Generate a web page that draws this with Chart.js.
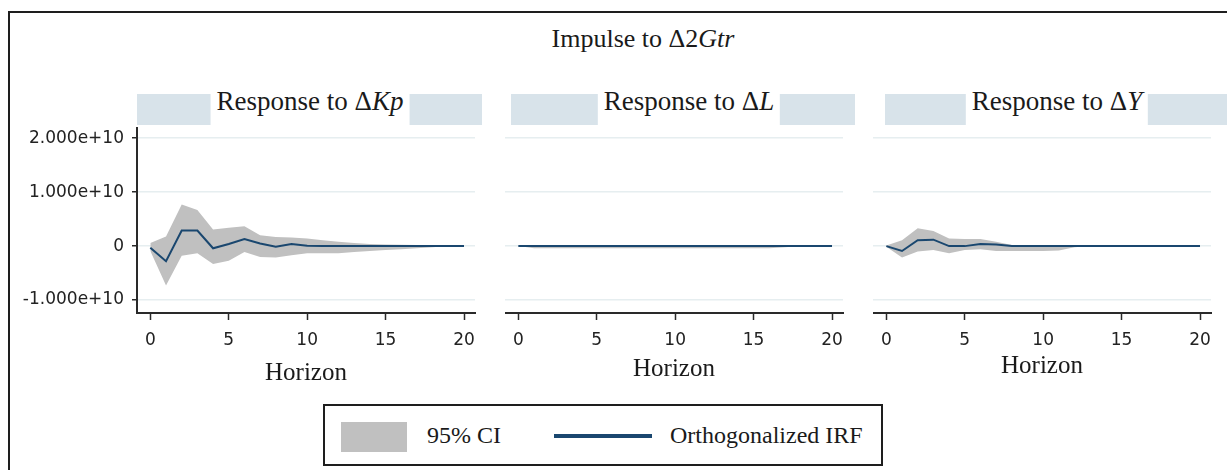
<!DOCTYPE html>
<html>
<head>
<meta charset="utf-8">
<script src="https://cdn.jsdelivr.net/npm/chart.js@4.4.1/dist/chart.umd.min.js"></script>
<style>
  html, body { margin: 0; padding: 0; background: #fff; }
  #stage { position: relative; width: 1227px; height: 470px; overflow: hidden; background: #fff; }
  .frame { position: absolute; left: 8px; top: 11px; width: 1240px; height: 480px; border: 2px solid #1e1e1e; box-sizing: border-box; }
  .serif { font-family: "Liberation Serif", "DejaVu Serif", serif; color: #1a1a1a; }
  .title { position: absolute; top: 24px; left: 643px; transform: translateX(-50%); font-size: 26px; white-space: nowrap; }
  .band { position: absolute; top: 94px; height: 31px; background: #d8e3ea; }
  .strip { position: absolute; top: 82px; height: 43px; line-height: 38px; font-size: 27px; background: #fff; padding: 0 6px; transform: translateX(-50%); white-space: nowrap; }
  canvas { position: absolute; }
  .legend { position: absolute; left: 323px; top: 404px; width: 560px; height: 62px; border: 2px solid #1e1e1e; box-sizing: border-box; }
  .swatch { position: absolute; left: 16px; top: 16px; width: 66px; height: 30px; background: #c0c0c0; }
  .lineSw { position: absolute; left: 229px; top: 28px; width: 98px; height: 4px; background: #1a476f; }
  .ltext { position: absolute; top: 13px; font-size: 24px; line-height: 32px; white-space: nowrap; }
</style>
</head>
<body>
<div id="stage">
  <div class="frame"></div>
  <div class="title serif">Impulse to Δ2<i>Gtr</i></div>

  <div class="band" style="left:137px; width:345px;"></div>
  <div class="band" style="left:511px; width:344px;"></div>
  <div class="band" style="left:885px; width:342px;"></div>
  <div class="strip serif" style="left:310px;">Response to Δ<i>Kp</i></div>
  <div class="strip serif" style="left:689px;">Response to Δ<i>L</i></div>
  <div class="strip serif" style="left:1057px;">Response to Δ<i>Y</i></div>

  <canvas id="c1" width="490" height="280" style="left:0px; top:120px;"></canvas>
  <canvas id="c2" width="353" height="280" style="left:505px; top:120px;"></canvas>
  <canvas id="c3" width="354" height="280" style="left:873px; top:120px;"></canvas>

  <div class="legend serif">
    <div class="swatch"></div>
    <div class="ltext" style="left:102px;">95% CI</div>
    <div class="lineSw"></div>
    <div class="ltext" style="left:345px;">Orthogonalized IRF</div>
  </div>
</div>

<script>
// Horizon steps shared by every panel
const horizon = [0, 1, 2, 3, 4, 5, 6, 7, 8, 9, 10, 11, 12, 13, 14, 15, 16, 17, 18, 19, 20];
const xTicks = [0, 5, 10, 15, 20];
const yTicks = [-1e10, 0, 1e10, 2e10];

// Response of ΔKp
const kpIrf   = [-0.03e10, -0.28e10, 0.29e10, 0.29e10, -0.04e10, 0.04e10, 0.13e10, 0.05e10, -0.01e10, 0.04e10, 0.005e10, 0, 0, 0, 0, 0, 0, 0, 0, 0, 0];
const kpLower = [-0.09e10, -0.73e10, -0.18e10, -0.13e10, -0.33e10, -0.27e10, -0.11e10, -0.20e10, -0.21e10, -0.17e10, -0.13e10, -0.13e10, -0.13e10, -0.11e10, -0.09e10, -0.07e10, -0.06e10, -0.04e10, -0.02e10, 0, 0];
const kpUpper = [0.06e10, 0.18e10, 0.77e10, 0.67e10, 0.31e10, 0.34e10, 0.37e10, 0.20e10, 0.17e10, 0.16e10, 0.14e10, 0.11e10, 0.08e10, 0.06e10, 0.04e10, 0.03e10, 0.025e10, 0.02e10, 0.01e10, 0, 0];

// Response of ΔL
const lIrf   = [0, 0, 0, 0, 0, 0, 0, 0, 0, 0, 0, 0, 0, 0, 0, 0, 0, 0, 0, 0, 0];
const lLower = [0, -0.04e10, -0.04e10, -0.04e10, -0.04e10, -0.04e10, -0.04e10, -0.04e10, -0.04e10, -0.04e10, -0.04e10, -0.04e10, -0.04e10, -0.04e10, -0.04e10, -0.04e10, -0.04e10, -0.02e10, 0, 0, 0];
const lUpper = [0, 0.005e10, 0.005e10, 0.005e10, 0.005e10, 0.005e10, 0.005e10, 0.005e10, 0.005e10, 0.005e10, 0.005e10, 0.005e10, 0.005e10, 0.005e10, 0.005e10, 0.005e10, 0.005e10, 0, 0, 0, 0];

// Response of ΔY
const yIrf   = [0, -0.09e10, 0.11e10, 0.12e10, 0, 0, 0.04e10, 0.03e10, 0, 0, 0, 0, 0, 0, 0, 0, 0, 0, 0, 0, 0];
const yLower = [-0.01e10, -0.21e10, -0.10e10, -0.07e10, -0.13e10, -0.07e10, -0.06e10, -0.09e10, -0.09e10, -0.09e10, -0.09e10, -0.08e10, -0.02e10, 0, 0, 0, 0, 0, 0, 0, 0];
const yUpper = [0.01e10, 0.11e10, 0.33e10, 0.28e10, 0.14e10, 0.13e10, 0.13e10, 0.08e10, 0.02e10, 0.01e10, 0.01e10, 0.01e10, 0.01e10, 0, 0, 0, 0, 0, 0, 0, 0];

const NAVY = '#1a476f';
const CI_GREY = '#c0c0c0';
const AXIS = '#2a2a2a';
const GRID = '#e6eef0';
const tickFont = { family: 'DejaVu Sans', size: 17 };
const serifFont = { family: 'Liberation Serif', size: 25 };

function pts(values) {
  return horizon.map((h, i) => ({ x: h, y: values[i] }));
}

function fmtY(v) {
  if (v === 0) return '0';
  return v.toExponential(3);
}

function makePanel(id, irf, lower, upper, opts) {
  const showY = opts.showY;
  return new Chart(document.getElementById(id), {
    type: 'line',
    data: {
      datasets: [
        // IRF line first so it is painted above the confidence band
        { data: pts(irf), borderColor: NAVY, borderWidth: 2, pointRadius: 0, fill: false, tension: 0, order: 0 },
        { data: pts(lower), borderWidth: 0, borderColor: 'rgba(0,0,0,0)', pointRadius: 0, fill: false, tension: 0, order: 1 },
        { data: pts(upper), borderWidth: 0, borderColor: 'rgba(0,0,0,0)', pointRadius: 0, backgroundColor: CI_GREY, fill: '-1', tension: 0, order: 2 }
      ]
    },
    options: {
      responsive: false,
      animation: false,
      devicePixelRatio: 1,
      layout: { padding: { top: 8, left: 0, right: opts.padRight, bottom: 0 } },
      plugins: { legend: { display: false }, tooltip: { enabled: false }, filler: { drawTime: 'beforeDatasetsDraw' } },
      scales: {
        x: {
          type: 'linear',
          min: -0.85,
          max: 20.7,
          afterBuildTicks: s => { s.ticks = xTicks.map(v => ({ value: v })); },
          afterFit: s => { s.height = 87; s.paddingLeft = 0; s.paddingRight = 0; },
          ticks: { font: tickFont, color: '#222', padding: 10, maxRotation: 0 },
          grid: { drawOnChartArea: false, drawTicks: true, tickLength: 7, tickColor: AXIS, tickWidth: 1.5 },
          border: { display: true, color: AXIS, width: 2 },
          title: { display: true, text: 'Horizon', font: serifFont, color: '#1a1a1a', padding: { top: 0, bottom: opts.titlePad } }
        },
        y: {
          type: 'linear',
          min: -1.24e10,
          max: 2.19e10,
          afterBuildTicks: s => { s.ticks = yTicks.map(v => ({ value: v })); },
          afterFit: s => { s.width = showY ? 137 : 0; s.paddingTop = 0; s.paddingBottom = 0; },
          ticks: { display: showY, font: tickFont, color: '#222', padding: 8, callback: v => fmtY(v) },
          grid: { color: GRID, lineWidth: 1.5, drawTicks: showY, tickLength: 5, tickColor: AXIS, tickWidth: 1.5 },
          border: { display: showY, color: AXIS, width: 2 }
        }
      }
    }
  });
}

makePanel('c1', kpIrf, kpLower, kpUpper, { showY: true, padRight: 15, titlePad: 12 });
makePanel('c2', lIrf, lLower, lUpper, { showY: false, padRight: 15, titlePad: 16 });
makePanel('c3', yIrf, yLower, yUpper, { showY: false, padRight: 16, titlePad: 19 });
</script>
</body>
</html>
